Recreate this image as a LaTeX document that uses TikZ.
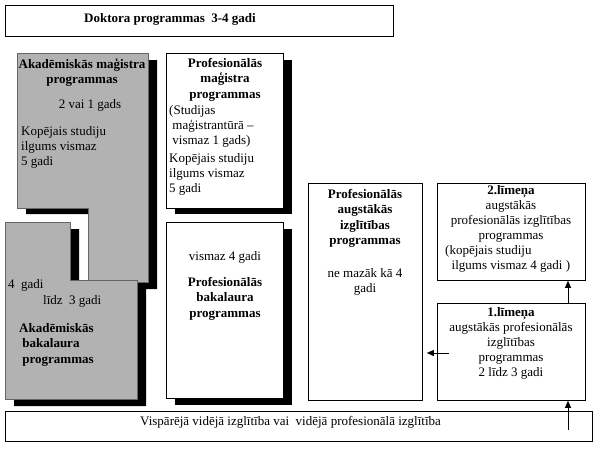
\documentclass[tikz,border=0pt]{standalone}
\usepackage{fontspec}
\setmainfont{Liberation Serif}
\usetikzlibrary{arrows.meta}
\begin{document}
\begin{tikzpicture}[x=1pt,y=-1pt,
  box/.style={draw=black,line width=0.8pt,fill=white},
  gbox/.style={draw=black!60,line width=0.6pt,fill=black!30},
  shad/.style={fill=black},
  t/.style={inner sep=0pt,font=\fontsize{13}{15}\selectfont,anchor=north},
  tb/.style={t,font=\fontsize{13}{15.5}\bfseries},
  arr/.style={-{Triangle[length=7pt,width=6pt]},line width=0.8pt}]
\useasboundingbox (0,0) rectangle (600,448);
% top
\node[box,minimum width=388pt,minimum height=31pt,anchor=north west] (dok) at (5,5) {};
\node[tb] (dokt) at (170,13) {Doktora programmas\ \ 3-4 gadi};
% shadows
\fill[shad] (26,60) -- (157,60) -- (157,289) -- (97,289) -- (97,214) -- (26,214) -- cycle;
\fill[shad] (14,229) -- (79,229) -- (79,287) -- (146,287) -- (146,406) -- (14,406) -- cycle;
\fill[shad] (175,60) rectangle (292,214);
\fill[shad] (175,229) rectangle (292,405);
% gray shapes
\draw[gbox] (17,53) -- (148,53) -- (148,282) -- (88,282) -- (88,208) -- (17,208) -- cycle;
\draw[gbox] (5,222) -- (70,222) -- (70,280) -- (137,280) -- (137,399) -- (5,399) -- cycle;
\node[box,minimum width=117pt,minimum height=155pt,anchor=north west] (pmag) at (166,53) {};
\node[box,minimum width=117pt,minimum height=176pt,anchor=north west] (pbak) at (166,222) {};
% Akad mag text
\node[tb,align=center] (amt) at (82,58) {Akadēmiskās maģistra\\programmas};
\node[t] (am2) at (90,99) {2 vai 1 gads};
\node[t,align=left,anchor=north west] (am3) at (21,126) {Kopējais studiju\\ilgums vismaz\\5 gadi};
% Akad bak text
\node[t,anchor=north west] (ab1) at (8,279) {4\ \ gadi};
\node[t,anchor=north west] (ab2) at (43,295) {līdz\ \ 3 gadi};
\node[tb,align=left,anchor=north west] (ab3) at (19,323) {Akadēmiskās\\\ bakalaura\\\ programmas};
% Prof mag
\node[tb,align=center] (pmt) at (225,58) {Profesionālās\\maģistra\\programmas};
\node[t,align=left,anchor=north west] (pm2) at (169,105) {(Studijas\\\ maģistrantūrā –\\\ vismaz 1 gads)};
\node[t,align=left,anchor=north west] (pm3) at (169,153) {Kopējais studiju\\ilgums vismaz\\5 gadi};
% Prof bak
\node[t] (pb1) at (225,251) {vismaz 4 gadi};
\node[tb,align=center] (pb2) at (225,277) {Profesionālās\\bakalaura\\programmas};
% right
\node[box,minimum width=114pt,minimum height=217pt,anchor=north west] (paug) at (308,183) {};
\node[tb,align=center] (paugt) at (365,189) {Profesionālās\\augstākās\\izglītības\\programmas};
\node[t,align=center] (paug2) at (365,268) {ne mazāk kā 4\\gadi};
\node[box,minimum width=148pt,minimum height=97pt,anchor=north west] (l2) at (437,183) {};
\node[t,align=center] (l2t) at (511,185) {\textbf{2.līmeņa}\\augstākās\\profesionālās izglītības\\programmas};
\node[t,align=left,anchor=north west] (l2b) at (445,245) {(kopējais studiju\\\ \ ilgums vismaz 4 gadi )};
\node[box,minimum width=148pt,minimum height=97pt,anchor=north west] (l1) at (437,303) {};
\node[t,align=center] (l1t) at (511,307) {\textbf{1.līmeņa}\\augstākās profesionālās\\izglītības\\programmas\\2 līdz 3 gadi};
% bottom
\node[box,minimum width=587pt,minimum height=30pt,anchor=north west] (bot) at (5,411) {};
\node[t,anchor=north west] (bott) at (140,416) {Vispārējā vidējā izglītība vai\ \ vidējā profesionālā izglītība};
% arrows
\coordinate (a1) at (568,430);
\coordinate (h1) at (449,353);
\draw[arr] (a1) -- (l1.south -| a1);
\draw[arr] (l1.north -| a1) -- (l2.south -| a1);
\draw[arr] (h1) -- ([xshift=4pt]paug.east |- h1);
\end{tikzpicture}
\end{document}
